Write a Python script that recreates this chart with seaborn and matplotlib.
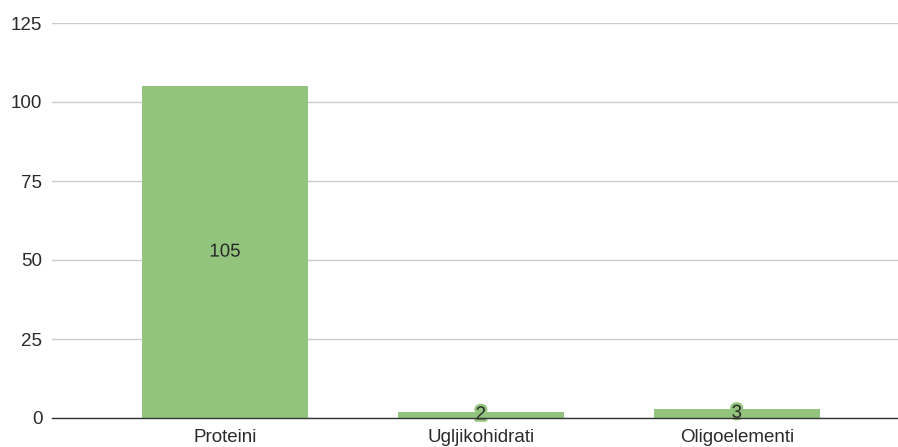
import pandas as pd
import numpy as np
import seaborn as sns
import matplotlib.pyplot as plt
import matplotlib.patheffects as pe

# chart data
categories = ['Proteini', 'Ugljikohidrati', 'Oligoelementi']
values = [105, 2, 3]
y_ticks = [0, 25, 50, 75, 100, 125]

bar_color = '#93c47d'
text_color = '#2a2a2a'
fsize = 13.5

sns.set_style('white')
plt.rcParams['font.family'] = ['Liberation Sans', 'DejaVu Sans']

df = pd.DataFrame({'category': categories, 'value': values})

fig = plt.figure(figsize=(8.98, 4.47), dpi=100)
ax = fig.add_axes([52 / 898, 1 - 418 / 447, 1 - 52 / 898, (418 - 23) / 447])

sns.barplot(data=df, x='category', y='value', color=bar_color, saturation=1,
            width=0.65, linewidth=0, ax=ax, zorder=3)

# value labels in the middle of each bar, with a halo in bar colour
labels = ax.bar_label(ax.containers[0], labels=[str(v) for v in values],
                      label_type='center', fontsize=fsize, color=text_color)
for t in labels:
    t.set_path_effects([pe.withStroke(linewidth=3.5, foreground=bar_color)])

ax.set_ylim(0, 125)
ax.set_xlim(-0.676, 2.63)
ax.set_yticks(y_ticks)
ax.set_yticklabels([str(v) for v in y_ticks], fontsize=fsize, color=text_color)
ax.tick_params(axis='x', labelsize=fsize, labelcolor=text_color, length=0, pad=8)
ax.tick_params(axis='y', length=0, pad=7)
ax.set_xlabel('')
ax.set_ylabel('')

ax.yaxis.grid(True, color='#cccccc', linewidth=1, zorder=0)
ax.set_axisbelow(True)
for s in ['top', 'right', 'left']:
    ax.spines[s].set_visible(False)
ax.spines['bottom'].set_color('#333333')
ax.spines['bottom'].set_linewidth(1)
ax.spines['bottom'].set_zorder(4)

fig.savefig('out.png', dpi=100)
